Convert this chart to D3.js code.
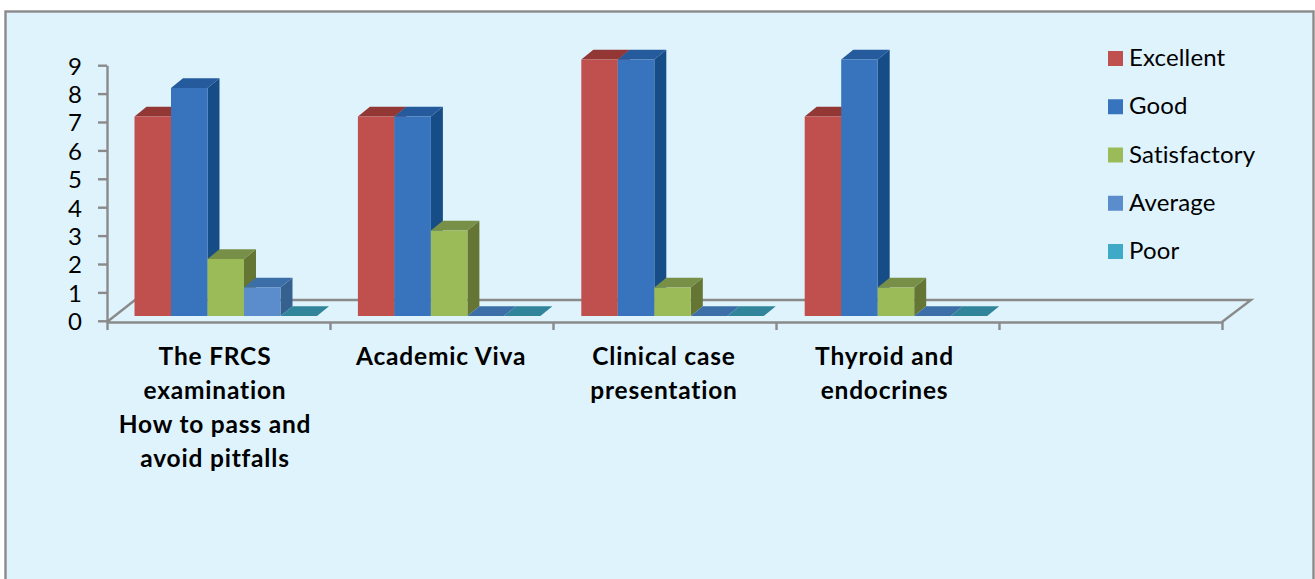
<!DOCTYPE html>
<html><head><meta charset="utf-8">
<script src="https://cdn.jsdelivr.net/npm/d3@7/dist/d3.min.js"></script>
<style>
html,body{margin:0;padding:0;background:#fff;overflow:hidden}
svg{display:block}
text{font-family:Lato,"Open Sans",sans-serif;fill:#000}
</style></head><body>
<svg id="c" width="1315" height="579"></svg>
<script>
const categories=["The FRCS\nexamination\nHow to pass and\navoid pitfalls","Academic Viva","Clinical case\npresentation","Thyroid and\nendocrines",""];
const seriesNames=["Excellent","Good","Satisfactory","Average","Poor"];
const excellent=[7,7,9,7];
const good=[8,7,9,9];
const satisfactory=[2,3,1,1];
const average=[1,0,0,0];
const poor=[0,0,0,0];
const yTicks=[0,1,2,3,4,5,6,7,8,9];

const seriesValues=[excellent,good,satisfactory,average,poor];
const front=["#C0504D","#3874BE","#9BBB59","#5B8CCB","#3FA9C8"];
const side=["#8F3735","#174D86","#647534","#36608F","#2B7F96"];
const topc=["#933735","#255A9C","#778F46","#3C6FA8","#31859B"];
const gray="#8A8A8A";

const svg=d3.select("#c");
svg.append("rect").attr("x",5.5).attr("y",11.5).attr("width",1308).attr("height",600)
  .attr("fill","#DFF3FD").attr("stroke",gray).attr("stroke-width",2.4);

const X0=107,X1=1222,dxF=28,dyF=22;
const xCat=d3.scaleBand().domain(categories).range([X0,X1+2]);
const xSer=d3.scaleBand().domain(seriesNames).range([27.5,210]);
const yAxisScale=d3.scaleLinear().domain([0,9]).range([320.8,65.2]);
const yBar=d3.scaleLinear().domain([0,9]).range([316,59.5]);
const depthX=12,depthY=9.7;

// floor
const floor=svg.append("g").attr("fill","none").attr("stroke",gray).attr("stroke-width",2.4);
floor.append("path").attr("d",d3.line()([[X0,322],[X0+dxF,322-dyF],[X1+dxF+1,322-dyF],[X1,322]]));

// y axis
const ya=svg.append("g").attr("transform",`translate(${X0},0)`)
  .call(d3.axisLeft(yAxisScale).tickValues(yTicks).tickFormat(d3.format("d")).tickSize(9).tickSizeOuter(0).tickPadding(16));
ya.selectAll("line,path").attr("stroke",gray).attr("stroke-width",2.4);
ya.selectAll("text").attr("font-size",24).attr("dy","0.37em").style("font-family","Lato").attr("fill","#000");

// x axis
const xEdges=d3.scaleLinear().domain([0,5]).range([X0,X1]);
const xa=svg.append("g").attr("transform","translate(0,322)")
  .call(d3.axisBottom(xEdges).tickValues(d3.range(6)).tickFormat("").tickSize(8).tickSizeOuter(0));
xa.selectAll("line,path").attr("stroke",gray).attr("stroke-width",2.4);

// bars
const pts=p=>p.map(q=>q.join(",")).join(" ");
const bars=svg.append("g");
categories.slice(0,4).forEach((cat,ci)=>{
  seriesNames.forEach((s,si)=>{
    const v=seriesValues[si][ci];
    const x=xCat(cat)+xSer(s), w=xSer.bandwidth(), b=yBar(0), t=yBar(v);
    if(v>0){
      bars.append("polygon").attr("fill",side[si])
        .attr("points",pts([[x+w,t],[x+w+depthX,t-depthY],[x+w+depthX,b-depthY],[x+w,b]]));
    }
    bars.append("polygon").attr("fill",topc[si])
      .attr("points",pts([[x,t],[x+depthX,t-depthY],[x+w+depthX,t-depthY],[x+w,t]]));
    if(v>0){
      bars.append("rect").attr("x",x).attr("y",t).attr("width",w).attr("height",b-t).attr("fill",front[si]);
    }
  });
});

// category labels
const labelNudge=[-3.7,-1,-1.5,-4.4];
categories.slice(0,4).forEach((cat,i)=>{
  const cx=xCat(cat)+xCat.bandwidth()/2+labelNudge[i];
  const t=svg.append("text").attr("text-anchor","middle").attr("font-weight",700)
    .attr("font-size",24.5).attr("letter-spacing",0.8);
  cat.split("\n").forEach((ln,k)=>{
    t.append("tspan").attr("x",cx).attr("y",365+k*34).text(ln);
  });
});

// legend
const lY=d3.scalePoint().domain(seriesNames).range([58.5,251.5]);
const lg=svg.append("g").selectAll("g").data(seriesNames).join("g")
  .attr("transform",d=>`translate(1108,${lY(d)})`);
lg.append("rect").attr("x",0).attr("y",-7.5).attr("width",15).attr("height",15)
  .attr("fill",(d,i)=>front[i]);
lg.append("text").attr("x",21).attr("y",7.5).attr("font-size",24).attr("letter-spacing",0.15).text(d=>d);
</script>
</body></html>
